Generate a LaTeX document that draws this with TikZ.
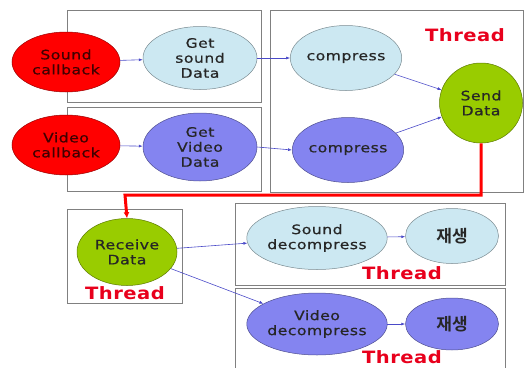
\documentclass[tikz,border=0pt]{standalone}
\usepackage{fontspec}
\setmainfont{DejaVu Sans}[FakeStretch=1.2,LetterSpace=4,FakeBold=0.6]
\newfontfamily\threadfont{DejaVu Sans Bold}[FakeStretch=1.15,LetterSpace=3]
\newfontfamily\kofont{Noto Sans CJK KR Bold}
\usetikzlibrary{arrows.meta,shapes.geometric}
\definecolor{cred}{HTML}{FF0000}
\definecolor{clblue}{HTML}{CCE8F2}
\definecolor{cpurple}{HTML}{8484F0}
\definecolor{cgreen}{HTML}{99CC00}
\definecolor{cline}{HTML}{4A4AC8}
\definecolor{cthread}{HTML}{E8001C}
\definecolor{cbox}{HTML}{808080}
\tikzset{
  ell/.style={ellipse, draw=#1!60!black, line width=0.5pt, inner sep=0pt, align=center,
     font=\fontsize{13}{18}\selectfont, text=black!85},
  redell/.style={ell=cred, fill=cred, text=black!75!red},
  blueell/.style={ell=clblue, fill=clblue},
  purpell/.style={ell=cpurple, fill=cpurple},
  greenell/.style={ell=cgreen, fill=cgreen},
  frame/.style={draw=cbox, line width=0.8pt},
  conn/.style={draw=cline, line width=0.6pt, -{Latex[length=4pt,width=3pt]}},
  thr/.style={text=cthread, font=\threadfont\fontsize{17}{17}\selectfont},
  ko/.style={font=\kofont\fontsize{17}{19}\selectfont},
}
\begin{document}
\begin{tikzpicture}[x=1pt,y=-1pt]
\useasboundingbox (0,0) rectangle (525,367);
% frames
\draw[frame] (67,10) rectangle (261,102);
\draw[frame] (67,107) rectangle (261,191);
\draw[frame] (270,10) rectangle (523,192);
\draw[frame] (67,209) rectangle (182,303);
\draw[frame] (235,203) rectangle (505,285);
\draw[frame] (235,288) rectangle (505,372);
% nodes
\node[redell, minimum width=108, minimum height=60] (sc) at (66,62) {Sound\\[-3pt]callback};
\node[blueell, minimum width=114, minimum height=63] (gs) at (200,58) {Get\\[-3pt]sound\\[-3pt]Data};
\node[redell, minimum width=108, minimum height=60] (vc) at (66,145) {Video\\[-3pt]callback};
\node[purpell, minimum width=114, minimum height=68] (gv) at (200,147) {Get\\[-3pt]Video\\[-3pt]Data};
\node[blueell, minimum width=101, minimum height=65] (c1) at (346,58) {compress};
\node[purpell, minimum width=99, minimum height=65] (c2) at (348,150) {compress};
\node[greenell, minimum width=83, minimum height=80] (sd) at (481,103) {Send\\[-3pt]Data};
\node[thr] (t1) at (465,35) {Thread};
\node[greenell, minimum width=100, minimum height=67] (rd) at (127,252) {Receive\\[-3pt]Data};
\node[thr] (t2) at (125,293) {Thread};
\node[blueell, minimum width=138, minimum height=63] (sdc) at (317,238) {Sound\\[-3pt]decompress};
\node[blueell, minimum width=93, minimum height=55, ko] (p1) at (452,236) {재생};
\node[thr] (t3) at (402,273) {Thread};
\node[purpell, minimum width=137, minimum height=62] (vdc) at (317,324) {Video\\[-3pt]decompress};
\node[purpell, minimum width=93, minimum height=52, ko] (p2) at (452,324) {재생};
\node[thr] (t4) at (402,357) {Thread};
% connectors
\draw[conn] (sc) -- (gs);
\draw[conn] (vc) -- (gv);
\draw[conn] (gs.east) -- (c1.west);
\draw[conn] (gv.east) -- (c2.west);
\draw[conn] (c1) -- (sd);
\draw[conn] (c2) -- (sd);
\draw[conn] (rd) -- (sdc);
\draw[conn] (rd) -- (vdc);
\draw[conn] (sdc) -- (p1);
\draw[conn] (vdc) -- (p2);
\draw[draw=red, line width=3pt, -{Latex[length=6pt,width=6pt]}] (sd.south) |- (125,195) -- (rd.north);
\end{tikzpicture}
\end{document}
